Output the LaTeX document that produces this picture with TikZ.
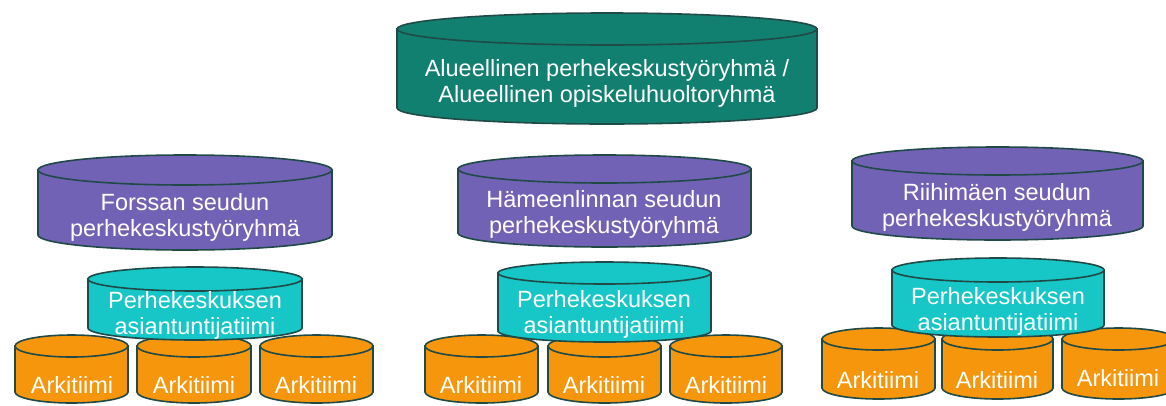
\documentclass[tikz,border=0pt]{standalone}
\usepackage{fontspec}
\setmainfont{Liberation Sans}

\definecolor{regiongreen}{HTML}{128070}
\definecolor{seudupurple}{HTML}{7262B6}
\definecolor{expertcyan}{HTML}{17C6C6}
\definecolor{teamorange}{HTML}{F5960C}
\definecolor{rimdark}{HTML}{204A47}

% barrel: left, right, top, bottom, ry, fill colour (pixel-like units, y down)
\newcommand{\barrel}[6]{%
  \pgfmathsetmacro\barx{(#1+#2)/2}%
  \pgfmathsetmacro\barrx{(#2-#1)/2}%
  \draw[rim, fill=#6] (#1,#3+#5) -- (#1,#4-#5)
    arc[start angle=180, end angle=0, x radius=\barrx, y radius=#5]
    -- (#2,#3+#5) -- cycle;
  \draw[rim, fill=#6] (\barx,#3+#5) ellipse [x radius=\barrx, y radius=#5];
}

\begin{document}
\begin{tikzpicture}[x=1pt, y=-1pt,
    rim/.style={draw=rimdark, line width=1.6pt},
    label/.style={text=white, align=center, inner sep=0pt,
      font=\fontsize{23.5}{26}\selectfont}]
  \clip (0,0) rectangle (1166,405);

  % regional group
  \barrel{397}{817}{13}{124}{16}{regiongreen}
  \node[label] (region) at (607,83) {Alueellinen perhekeskustyöryhmä /\\Alueellinen opiskeluhuoltoryhmä};

  % sub-regional groups
  \barrel{38}{332}{155}{250}{15}{seudupurple}
  \barrel{458}{751}{155}{247}{14}{seudupurple}
  \barrel{852}{1143}{147}{240}{14}{seudupurple}
  \node[label] (forssa)  at (185,217)  {Forssan seudun\\perhekeskustyöryhmä};
  \node[label] (hameenl) at (604,214)  {Hämeenlinnan seudun\\perhekeskustyöryhmä};
  \node[label] (riihim)  at (997,207)  {Riihimäen seudun\\perhekeskustyöryhmä};

  % everyday teams
  \foreach \l/\r in {15/128, 137/251, 260/373, 425/538, 548/661, 670/782}
    \barrel{\l}{\r}{335}{403}{11}{teamorange};
  \foreach \l/\r in {822/935, 942/1053, 1062/1175}
    \barrel{\l}{\r}{328}{399}{11}{teamorange};
  \node[label] (arkiA1) at (72,385)   {Arkitiimi};
  \node[label] (arkiA2) at (194,385)  {Arkitiimi};
  \node[label] (arkiA3) at (316,385)  {Arkitiimi};
  \node[label] (arkiB1) at (481,385)  {Arkitiimi};
  \node[label] (arkiB2) at (604,385)  {Arkitiimi};
  \node[label] (arkiB3) at (726,385)  {Arkitiimi};
  \node[label] (arkiC1) at (878,380)  {Arkitiimi};
  \node[label] (arkiC2) at (997,380)  {Arkitiimi};
  \node[label] (arkiC3) at (1118,378) {Arkitiimi};

  % expert teams
  \barrel{88}{302}{267}{340}{12}{expertcyan}
  \barrel{498}{711}{262}{342}{11}{expertcyan}
  \barrel{892}{1104}{258}{337}{12}{expertcyan}
  \node[label] (asiantA) at (195,315) {Perhekeskuksen\\asiantuntijatiimi};
  \node[label] (asiantB) at (604,314) {Perhekeskuksen\\asiantuntijatiimi};
  \node[label] (asiantC) at (998,311) {Perhekeskuksen\\asiantuntijatiimi};
\end{tikzpicture}
\end{document}
